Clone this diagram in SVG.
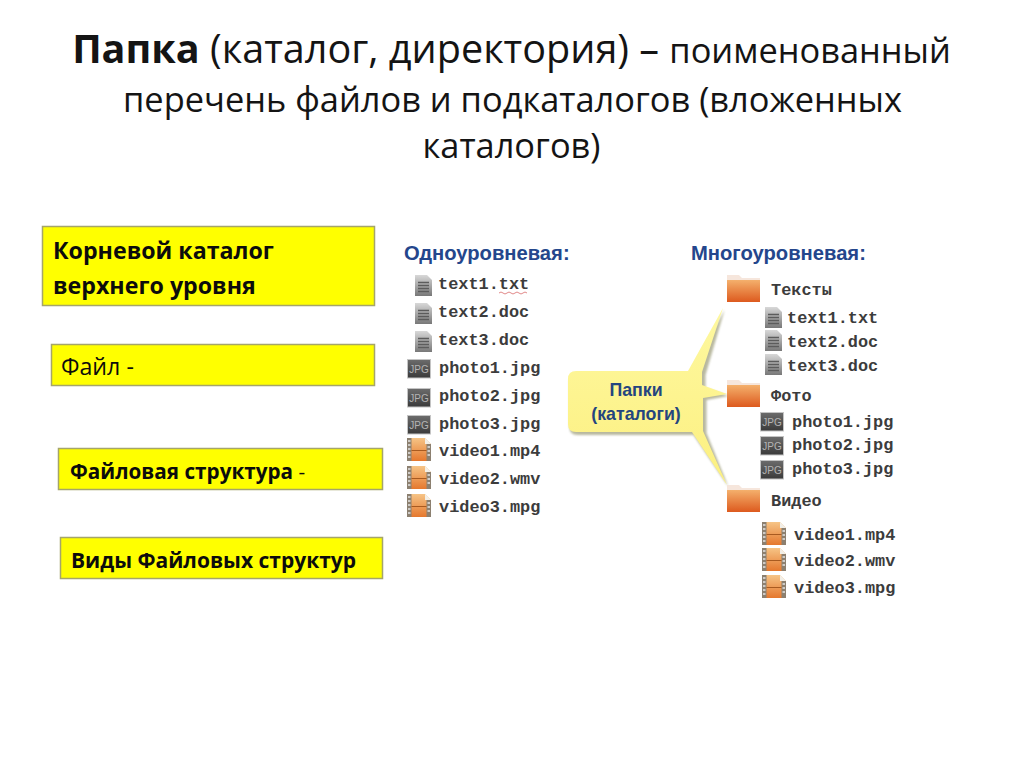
<svg xmlns="http://www.w3.org/2000/svg" width="1024" height="767" viewBox="0 0 1024 767">
<style>
.t{font-family:"Open Sans","Noto Sans",sans-serif;fill:#141414;text-anchor:middle}
.b{font-family:"Open Sans","Noto Sans",sans-serif;fill:#0c0c0c}
.box{fill:#ffff00;stroke:#a5a56a;stroke-width:1.500}
.h{font-family:"Liberation Sans",sans-serif;font-weight:700;font-size:20.200px;fill:#24468c}
.m{font-family:"Liberation Mono",monospace;font-weight:700;font-size:16.900px;fill:#3c3c3c}
.c{font-family:"Liberation Sans",sans-serif;font-weight:700;font-size:17.800px;fill:#24457f;text-anchor:middle}
.j{font-family:"Liberation Sans",sans-serif;font-size:10px;fill:#b4b4b4;text-anchor:middle}
</style>
<defs>
<linearGradient id="dg" x1="0" y1="0" x2="0" y2="1"><stop offset="0" stop-color="#d8d8d8"/><stop offset="1" stop-color="#787878"/></linearGradient>
<linearGradient id="jg" x1="0" y1="0" x2="0" y2="1"><stop offset="0" stop-color="#6c6c6c"/><stop offset="1" stop-color="#3a3a3a"/></linearGradient>
<linearGradient id="fg" x1="0" y1="0" x2="0" y2="1"><stop offset="0" stop-color="#f4b06c"/><stop offset="1" stop-color="#dd5a1e"/></linearGradient>
<linearGradient id="vg" x1="0" y1="0" x2="0" y2="1"><stop offset="0" stop-color="#f6c486"/><stop offset="1" stop-color="#e5782e"/></linearGradient>
<linearGradient id="yg" x1="0" y1="0" x2="0" y2="1"><stop offset="0" stop-color="#fef8a0"/><stop offset="1" stop-color="#fcf080"/></linearGradient>
<filter id="bl" x="-10%" y="-10%" width="120%" height="120%"><feGaussianBlur stdDeviation="1"/></filter>
<g id="doc"><path d="M0 0H12L17 5V21H0Z" fill="url(#dg)"/><path d="M3 7.500H14M3 10.500H14M3 13.500H14M3 16.500H14" stroke="#5c5c5c" stroke-width="1.300" fill="none"/></g>
<g id="jpg"><rect x="0.500" y="0.500" width="23" height="18.500" fill="url(#jg)" stroke="#c4c4c4"/><text class="j" x="12" y="13.500">JPG</text></g>
<g id="vid"><path d="M0 0H18L24 6V23H0Z" fill="url(#vg)"/><path d="M18 0L24 6H18Z" fill="#f2efe8"/><rect width="4.500" height="23" fill="#8c8070"/><rect x="19.500" y="6" width="4.500" height="17" fill="#8c8070"/><path d="M1 3H3.500M1 7H3.500M1 11H3.500M1 15H3.500M1 19H3.500M20.500 9H23M20.500 13H23M20.500 17H23" stroke="#e4e4e4" stroke-width="1.300"/><path d="M4.500 12.500H19.500" stroke="#a85a20"/></g>
<g id="fold"><path d="M0 0H12L15 3H33V5H0Z" fill="#f6e6dc"/><rect y="5" width="33" height="22" fill="url(#fg)"/></g>
</defs>

<g id="title">
<text class="t" x="511.500" y="63"><tspan font-weight="700" font-size="39.600px">Папка</tspan><tspan font-size="39.600px"> (каталог, директория) – </tspan><tspan font-size="34.400px">поименованный</tspan></text>
<text class="t" x="512.500" y="112" font-size="34.400px">перечень файлов и подкаталогов (вложенных</text>
<text class="t" x="511.500" y="158" font-size="34.400px">каталогов)</text>
</g>

<g id="node-root"><rect class="box" x="42.500" y="226.500" width="332" height="79"/>
<text class="b" x="53" y="259" font-weight="700" font-size="23.200">Корневой каталог</text>
<text class="b" x="53" y="294" font-weight="700" font-size="23.200">верхнего уровня</text></g>
<g id="node-file"><rect class="box" x="51.500" y="344.500" width="323" height="41"/>
<text class="b" x="61" y="375" font-size="23.200">Файл -</text></g>
<g id="node-struct"><rect class="box" x="58.500" y="448.500" width="324" height="41"/>
<text class="b" x="70" y="479" font-size="20.700"><tspan font-weight="700">Файловая структура</tspan> -</text></g>
<g id="node-types"><rect class="box" x="60.500" y="537.500" width="322" height="41"/>
<text class="b" x="71" y="568" font-weight="700" font-size="21">Виды Файловых структур</text></g>

<g id="flat">
<text class="h" x="404" y="260">Одноуровневая:</text>
<use href="#doc" x="415" y="275"/><text class="m" x="438" y="289">text1.txt</text>
<path d="M499 293q2-2 4 0t4 0 4 0 4 0 4 0 4 0 4 0" fill="none" stroke="#d86a6a" stroke-width="0.800"/>
<use href="#doc" x="415" y="303"/><text class="m" x="438" y="317">text2.doc</text>
<use href="#doc" x="415" y="331"/><text class="m" x="438" y="345">text3.doc</text>
<use href="#jpg" x="407" y="359"/><text class="m" x="439" y="373">photo1.jpg</text>
<use href="#jpg" x="407" y="388"/><text class="m" x="439" y="401">photo2.jpg</text>
<use href="#jpg" x="407" y="415"/><text class="m" x="439" y="429">photo3.jpg</text>
<use href="#vid" x="407" y="438"/><text class="m" x="439" y="456">video1.mp4</text>
<use href="#vid" x="407" y="466"/><text class="m" x="439" y="484">video2.wmv</text>
<use href="#vid" x="407" y="494"/><text class="m" x="439" y="512">video3.mpg</text>
</g>

<g id="callout">
<path d="M576 372H688L723 308L704 373V386L727 394L705 398V431L727 485L692 433H576Q568 433 568 425V380Q568 372 576 372Z" fill="#8a8a60" opacity="0.600" transform="translate(1.500 2)" filter="url(#bl)"/>
<path d="M576 371H688L723 308L702 372V385L727 394L703 398V431L727 485L692 432H576Q568 432 568 424V379Q568 371 576 371Z" fill="url(#yg)"/>
<text class="c" x="636" y="396">Папки</text>
<text class="c" x="636" y="420">(каталоги)</text>
</g>

<g id="tree">
<text class="h" x="691" y="260">Многоуровневая:</text>
<use href="#fold" x="727" y="275"/><text class="m" x="771" y="295">Тексты</text>
<use href="#doc" x="765" y="307"/><text class="m" x="787" y="323">text1.txt</text>
<use href="#doc" x="765" y="330"/><text class="m" x="787" y="347">text2.doc</text>
<use href="#doc" x="765" y="354"/><text class="m" x="787" y="371">text3.doc</text>
<use href="#fold" x="727" y="380"/><text class="m" x="771" y="401">Фото</text>
<use href="#jpg" x="760" y="412"/><text class="m" x="792" y="427">photo1.jpg</text>
<use href="#jpg" x="760" y="436"/><text class="m" x="792" y="450">photo2.jpg</text>
<use href="#jpg" x="760" y="460"/><text class="m" x="792" y="474">photo3.jpg</text>
<use href="#fold" x="727" y="485"/><text class="m" x="771" y="506">Видео</text>
<use href="#vid" x="762" y="522"/><text class="m" x="794" y="540">video1.mp4</text>
<use href="#vid" x="762" y="548"/><text class="m" x="794" y="566">video2.wmv</text>
<use href="#vid" x="762" y="575"/><text class="m" x="794" y="593">video3.mpg</text>
</g>
</svg>
